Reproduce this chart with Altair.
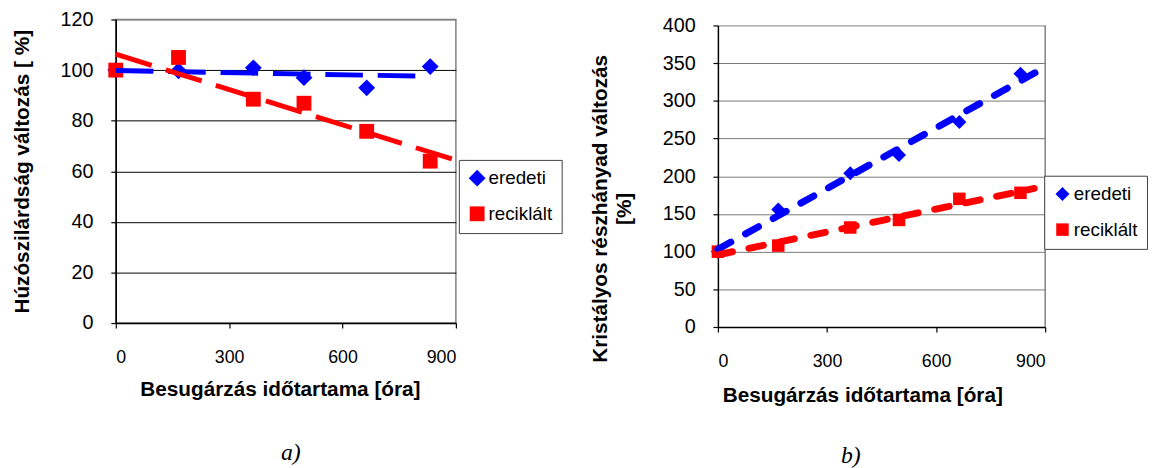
import altair as alt
import pandas as pd

# ---- data ----
hours = [0, 166, 364, 498, 664, 832]
series_names = ["eredeti", "reciklált"]
tensile_eredeti = [100, 99.7, 100.9, 97, 93, 101.4]
tensile_reciklalt = [100, 105, 88.5, 86.9, 75.8, 64]
cryst_eredeti = [100, 156, 204, 228, 272, 336]
cryst_reciklalt = [100, 108, 132, 142, 170, 178]
x_ticks = [0, 300, 600, 900]
y_ticks_a = [0, 20, 40, 60, 80, 100, 120]
y_ticks_b = [0, 50, 100, 150, 200, 250, 300, 350, 400]

colors = ["#0000FF", "#FF0000"]
shapes = ["diamond", "square"]
FONT = "Liberation Sans"


def frame(a, b):
    return pd.DataFrame({
        "hours": hours + hours,
        "value": a + b,
        "series": [series_names[0]] * len(hours) + [series_names[1]] * len(hours),
    })


df_a = frame(tensile_eredeti, tensile_reciklalt)
df_b = frame(cryst_eredeti, cryst_reciklalt)

x_scale = alt.Scale(domain=[0, 900], nice=False)


def panel(df, y_title, y_dom, y_ticks, y_range, grid_color, legend_x, legend_y,
          sizes, line_w, dash, cap, extents, title_y, x_title_x, x_title_pad,
          label_suffix, top_gray, border):
    x_axis = alt.Axis(values=x_ticks, title="Besugárzás időtartama [óra]",
                      grid=False, labelFontSize=18, labelPadding=21,
                      titlePadding=x_title_pad, tickSize=5, titleX=x_title_x)
    axis_kw = dict(values=y_ticks, title=y_title, grid=True,
                   gridColor=alt.condition(f"datum.value >= {top_gray}",
                                           alt.value("#808080"), alt.value(grid_color)),
                   labelFontSize=20, labelPadding=18, tickSize=5, titlePadding=28,
                   titleLineHeight=24)
    if title_y is not None:
        axis_kw["titleY"] = title_y
    y_axis = alt.Axis(**axis_kw)
    yscale = alt.Scale(domain=y_dom, nice=False)
    if y_range is not None:
        yscale = alt.Scale(domain=y_dom, nice=False, range=y_range)
    y = alt.Y("value:Q", scale=yscale, axis=y_axis)
    x = alt.X("hours:Q", scale=x_scale, axis=x_axis)
    leg = alt.Legend(title=None, orient="none", legendX=legend_x, legendY=legend_y,
                     strokeColor="#404040", fillColor="white", padding=9,
                     symbolSize=144, labelFontSize=19, labelFont=FONT, rowPadding=16,
                     labelOffset=2, symbolStrokeWidth=0,
                     labelExpr=f"datum.label + '{label_suffix}'")
    pts = alt.Chart(df).mark_point(filled=True, opacity=1).encode(
        x=x, y=y,
        color=alt.Color("series:N", scale=alt.Scale(domain=series_names, range=colors), legend=leg),
        shape=alt.Shape("series:N", scale=alt.Scale(domain=series_names, range=shapes), legend=leg),
        size=alt.Size("series:N", scale=alt.Scale(domain=series_names, range=sizes), legend=None),
    )
    layers = [pts]
    for name, col, ext in zip(series_names, colors, extents):
        layers.append(
            alt.Chart(df).transform_filter(alt.datum.series == name)
            .transform_regression("hours", "value", extent=ext)
            .mark_line(color=col, strokeWidth=line_w, strokeDash=dash, strokeCap=cap)
            .encode(x=x, y=y)
        )
    if border:
        layers.append(
            alt.Chart(pd.DataFrame({"k": [0]})).mark_rule(color="#808080", strokeWidth=1.5)
            .encode(x=alt.X(datum=x_ticks[-1], scale=x_scale, axis=x_axis),
                    y=alt.Y(datum=y_dom[0], scale=yscale, axis=y_axis),
                    y2=alt.Y2(datum=y_dom[1]))
        )
    return layers


left_layers = panel(df_a, "Húzószilárdság változás [ %]", [0, 120], y_ticks_a, None, "black",
                    347, 142, [289, 225], 5, [38, 15], "butt", [[0, 832], [0, 890]],
                    None, 166, 12, "", 120, False)
left = alt.layer(*left_layers).properties(
    width=344, height=307,
    title=alt.Title("a)", orient="bottom", font="Liberation Serif", fontStyle="italic",
                    fontWeight="normal", fontSize=24, dx=5, offset=43, anchor="middle"),
)

right_layers = panel(df_b, ["Kristályos részhányad változás", "[%]"], [0, 400], y_ticks_b,
                     [311, 6], "#777777", 330, 158, [200, 160], 7, [15, 17], "round",
                     [[0, 885], [0, 870]], 191, 146, 14,
                     "\u00a0" * 14, 400, True)
right = alt.layer(*right_layers).properties(
    width=331, height=311, view=alt.ViewBackground(stroke=None),
    title=alt.Title("b)", orient="bottom", font="Liberation Serif", fontStyle="italic",
                    fontWeight="normal", fontSize=24, dx=-31, offset=40, anchor="middle"),
)

chart = alt.hconcat(left, right, spacing=265, bounds="flush").resolve_scale(
    color="independent", shape="independent", size="independent", y="independent"
).configure(padding={"left": 2, "top": -2, "right": 0, "bottom": 0}).configure_view(
    stroke="#808080", strokeWidth=1.5
).configure_axis(
    labelFont=FONT, titleFont=FONT, labelColor="black", titleColor="black",
    titleFontSize=21, titleFontWeight="bold", domainColor="black", domainWidth=1.5,
    tickColor="black", tickWidth=1.2, gridWidth=1,
)

chart.save("out.html", embed_options={"renderer": "svg", "actions": False})
